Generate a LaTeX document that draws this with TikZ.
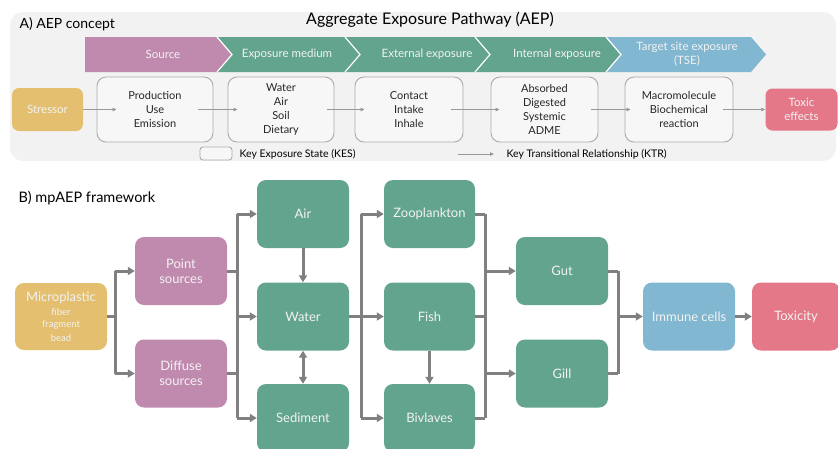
\documentclass[tikz,border=0pt]{standalone}
\usepackage{fontspec}
\setmainfont{Lato}
\usetikzlibrary{arrows.meta}

\definecolor{aepgreen}{HTML}{62A48E}
\definecolor{aeppink}{HTML}{C08AAF}
\definecolor{aepgold}{HTML}{E3BF6F}
\definecolor{aepblue}{HTML}{82B7D1}
\definecolor{aepred}{HTML}{E57888}
\definecolor{aepline}{HTML}{808080}
\definecolor{aepbg}{HTML}{F2F2F2}
\definecolor{kesline}{HTML}{ABABAB}
\definecolor{paletext}{HTML}{F2F2F2}

\tikzset{
  kes/.style={draw=kesline, line width=0.9pt, fill=aepbg!60!white, rounded corners=9pt,
    align=center, text=black!85, font=\fontsize{11}{14}\selectfont, inner sep=1pt},
  aepbox/.style={rounded corners=7pt, align=center, text=paletext,
    font=\fontsize{11.5}{13.5}\selectfont, inner sep=1pt},
  mpbox/.style={rounded corners=9pt, minimum width=92pt, minimum height=68pt, align=center,
    text=paletext, font=\fontsize{13}{15}\selectfont, inner sep=1pt},
  chevtext/.style={text=paletext, align=center, font=\fontsize{11.5}{14}\selectfont},
  ktr/.style={draw=black!40, line width=0.8pt, -{Triangle[length=4pt,width=3.5pt]}},
  flowline/.style={draw=aepline, line width=3pt},
  flow/.style={flowline, -{Triangle[length=7pt,width=8pt]}},
}

\begin{document}
\begin{tikzpicture}[x=1pt, y=-1pt]
  \useasboundingbox (0,0) rectangle (838,448);

  % Panel A background
  \fill[aepbg, rounded corners=13pt] (10,12) rectangle (836,161);
  \node[anchor=west] (titleA) at (16,24) {\fontsize{14}{16}\selectfont A) AEP concept};
  \node (titleAEP) at (430,20) {\fontsize{16}{18}\selectfont Aggregate Exposure Pathway (AEP)};

  % Chevron band
  \fill[aeppink] (85,37) -- (217,37) -- (232,54.5) -- (217,72) -- (85,72) -- cycle;
  \foreach \l/\r/\c in {217/345/aepgreen, 345/475/aepgreen, 475/606/aepgreen, 606/751/aepblue}
    \fill[\c] (\l,37) -- (\r,37) -- (\r+15,54.5) -- (\r,72) -- (\l,72) -- (\l+15,54.5) -- cycle;
  \foreach \r in {217,345,475,606}
    \draw[white, line width=1.2pt] (\r,37) -- (\r+15,54.5) -- (\r,72);
  \node[chevtext] (chSource) at (163,54.5) {Source};
  \node[chevtext] (chMedium) at (287,54.5) {Exposure medium};
  \node[chevtext] (chExternal) at (427,54.5) {External exposure};
  \node[chevtext] (chInternal) at (557,54.5) {Internal exposure};
  \node[chevtext] (chTarget) at (687,54.5) {Target site exposure\\(TSE)};

  % Key exposure states
  \node[aepbox, fill=aepgold, minimum width=71pt, minimum height=43pt] (stressor) at (47.5,109.5) {Stressor};
  \node[kes, minimum width=116pt, minimum height=65pt] (kesSource) at (155,109.5) {Production\\Use\\Emission};
  \node[kes, minimum width=106pt, minimum height=65pt] (kesMedium) at (281,109.5) {Water\\Air\\Soil\\Dietary};
  \node[kes, minimum width=108pt, minimum height=65pt] (kesExternal) at (409,109.5) {Contact\\Intake\\Inhale};
  \node[kes, minimum width=107pt, minimum height=65pt] (kesInternal) at (544.5,109.5) {Absorbed\\Digested\\Systemic\\ADME};
  \node[kes, minimum width=108pt, minimum height=65pt] (kesTarget) at (679,109.5) {Macromolecule\\Biochemical\\reaction};
  \node[aepbox, fill=aepred, minimum width=72pt, minimum height=42pt] (toxic) at (801.5,109.5) {Toxic\\effects};

  % Key transitional relationships
  \draw[ktr] (stressor.east) -- ([xshift=20pt]kesSource.west);
  \draw[ktr] ([xshift=-15pt]kesSource.east) -- ([xshift=10pt]kesMedium.west);
  \draw[ktr] ([xshift=-7pt]kesMedium.east) -- ([xshift=10pt]kesExternal.west);
  \draw[ktr] ([xshift=-12pt]kesExternal.east) -- ([xshift=9pt]kesInternal.west);
  \draw[ktr] ([xshift=-7pt]kesInternal.east) -- ([xshift=6pt]kesTarget.west);
  \draw[ktr] ([xshift=-10pt]kesTarget.east) -- (toxic.west);

  % Legend
  \node[kes, rounded corners=3pt, minimum width=32pt, minimum height=13pt] (legKes) at (216,153.5) {};
  \node[anchor=west, font=\fontsize{10.5}{12}\selectfont] (legKesText) at (236,154) {Key Exposure State (KES)};
  \coordinate (legKtrA) at (458,154);
  \coordinate (legKtrB) at (494,154);
  \draw[ktr] (legKtrA) -- (legKtrB);
  \node[anchor=west, font=\fontsize{10.5}{12}\selectfont] (legKtrText) at (503,154) {Key Transitional Relationship (KTR)};

  % Panel B
  \node[anchor=west] (titleB) at (15,198) {\fontsize{14.5}{16}\selectfont B) mpAEP framework};

  \node[mpbox, fill=aepgold, minimum height=67pt] (micro) at (61,316.5)
    {Microplastic\\[-1pt]{\fontsize{9.5}{12}\selectfont fiber}\\[-3pt]{\fontsize{9.5}{12}\selectfont fragment}\\[-1pt]{\fontsize{9.5}{12}\selectfont bead}};
  \node[mpbox, fill=aeppink] (point) at (181,271) {Point\\sources};
  \node[mpbox, fill=aeppink] (diffuse) at (181,373.5) {Diffuse\\sources};
  \node[mpbox, fill=aepgreen] (air) at (303,214) {Air};
  \node[mpbox, fill=aepgreen] (water) at (303,316.5) {Water};
  \node[mpbox, fill=aepgreen] (sediment) at (303,418) {Sediment};
  \node[mpbox, fill=aepgreen, minimum width=91pt] (zoo) at (429.5,214) {Zooplankton};
  \node[mpbox, fill=aepgreen, minimum width=91pt] (fish) at (429.5,316.5) {Fish};
  \node[mpbox, fill=aepgreen, minimum width=91pt] (biv) at (429.5,418) {Bivlaves};
  \node[mpbox, fill=aepgreen] (gut) at (562,271) {Gut};
  \node[mpbox, fill=aepgreen] (gill) at (562,373.5) {Gill};
  \node[mpbox, fill=aepblue] (immune) at (689,316.5) {Immune cells};
  \node[mpbox, fill=aepred, minimum width=88pt] (toxicity) at (796,316.5) {Toxicity};

  % Junctions
  \coordinate (jMicro) at (115,0);
  \coordinate (jSource) at (237,0);
  \coordinate (jWater) at (361,0);
  \coordinate (jOrganism) at (485,0);
  \coordinate (jOrgan) at (618,0);

  % Microplastic to sources
  \draw[flowline] (micro.east) -- (micro.east -| jMicro);
  \draw[flowline] (jMicro |- point.west) -- (jMicro |- diffuse.west);
  \draw[flow] (jMicro |- point.west) -- (point.west);
  \draw[flow] (jMicro |- diffuse.west) -- (diffuse.west);

  % Sources to media
  \draw[flowline] (point.east) -- (point.east -| jSource);
  \draw[flowline] (diffuse.east) -- (diffuse.east -| jSource);
  \draw[flowline] (jSource |- air.west) -- (jSource |- sediment.west);
  \draw[flow] (jSource |- air.west) -- (air.west);
  \draw[flow] (jSource |- water.west) -- (water.west);
  \draw[flow] (jSource |- sediment.west) -- (sediment.west);
  \draw[flow] (air.south) -- (water.north);
  \draw[flowline, {Triangle[length=7pt,width=8pt]}-{Triangle[length=7pt,width=8pt]}] (water.south) -- (sediment.north);

  % Water to organisms
  \draw[flowline] (water.east) -- (water.east -| jWater);
  \draw[flowline] (jWater |- zoo.west) -- (jWater |- biv.west);
  \draw[flow] (jWater |- zoo.west) -- (zoo.west);
  \draw[flow] (jWater |- fish.west) -- (fish.west);
  \draw[flow] (jWater |- biv.west) -- (biv.west);
  \draw[flow] (fish.south) -- (biv.north);

  % Organisms to organs
  \draw[flowline] (zoo.east) -- (zoo.east -| jOrganism);
  \draw[flowline] (fish.east) -- (fish.east -| jOrganism);
  \draw[flowline] (biv.east) -- (biv.east -| jOrganism);
  \draw[flowline] (jOrganism |- zoo.east) -- (jOrganism |- biv.east);
  \draw[flow] (jOrganism |- gut.west) -- (gut.west);
  \draw[flow] (jOrganism |- gill.west) -- (gill.west);

  % Organs to effects
  \draw[flowline] (gut.east) -- (gut.east -| jOrgan);
  \draw[flowline] (gill.east) -- (gill.east -| jOrgan);
  \draw[flowline] (jOrgan |- gut.east) -- (jOrgan |- gill.east);
  \draw[flow] (jOrgan |- immune.west) -- (immune.west);
  \draw[flow] (immune.east) -- (toxicity.west);
\end{tikzpicture}
\end{document}
